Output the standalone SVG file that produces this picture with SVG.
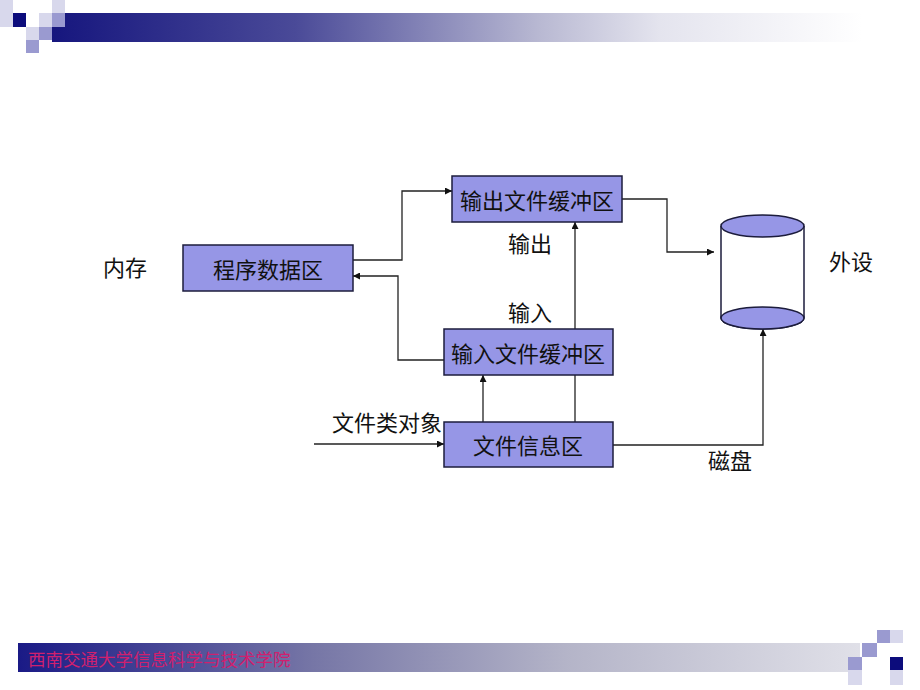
<svg xmlns="http://www.w3.org/2000/svg" width="920" height="690" viewBox="0 0 920 690">
<defs>
<linearGradient id="hdr" x1="0" y1="0" x2="1" y2="0">
<stop offset="0" stop-color="#16167e"/>
<stop offset="0.3" stop-color="#4a4a98"/>
<stop offset="0.6" stop-color="#b8b8d2"/>
<stop offset="0.75" stop-color="#e4e4ee"/>
<stop offset="1" stop-color="#ffffff"/>
</linearGradient>
<linearGradient id="ftr" x1="0" y1="0" x2="1" y2="0">
<stop offset="0" stop-color="#1a1a86"/>
<stop offset="0.35" stop-color="#7676a6"/>
<stop offset="0.65" stop-color="#b4b4c8"/>
<stop offset="1" stop-color="#e0e0e8"/>
</linearGradient>
<marker id="arr" viewBox="0 0 10 10" refX="10" refY="5" markerWidth="9" markerHeight="7" markerUnits="userSpaceOnUse" orient="auto">
<path d="M0,0 L10,5 L0,10 z" fill="#111"/>
</marker>
<style>
.node{fill:#9696e6;stroke:#1c1c3c;stroke-width:1.5}
.t{font-family:"Noto Sans CJK SC","Noto Sans",sans-serif;font-size:22px;fill:#111;text-anchor:middle;dominant-baseline:central}
.c{fill:none;stroke:#222;stroke-width:1.3;marker-end:url(#arr)}
.lt{fill:#d8d8ec}
.md{fill:#9a9ad0}
.dk{fill:#0c0c7c}
</style>
</defs>
<rect width="920" height="690" fill="#ffffff"/>
<!-- header -->
<g id="header">
<rect x="52" y="13" width="810" height="29" fill="url(#hdr)"/>
<rect class="lt" x="0" y="0" width="13" height="27"/>
<rect class="lt" x="52" y="0" width="13" height="13"/>
<rect class="dk" x="13" y="13" width="13" height="14"/>
<rect class="lt" x="39" y="13" width="13" height="14"/>
<rect class="md" x="52" y="13" width="13" height="14"/>
<rect class="lt" x="26" y="27" width="13" height="13"/>
<rect class="md" x="39" y="27" width="13" height="13"/>
<rect class="md" x="26" y="40" width="13" height="13"/>
</g>
<!-- footer -->
<g id="footer">
<rect x="18" y="643" width="842" height="29" fill="url(#ftr)"/>
<text x="28" y="658" font-family="Noto Sans CJK SC,sans-serif" font-size="17.5" fill="#d0206e" dominant-baseline="central">西南交通大学信息科学与技术学院</text>
<rect class="md" x="877" y="630" width="13" height="13"/>
<rect class="lt" x="890" y="630" width="13" height="13"/>
<rect class="md" x="862" y="643" width="15" height="14"/>
<rect class="md" x="848" y="657" width="14" height="13"/>
<rect class="dk" x="890" y="657" width="13" height="13"/>
<rect class="lt" x="848" y="670" width="14" height="15"/>
<rect class="lt" x="890" y="670" width="13" height="15"/>
</g>
<!-- connectors -->
<g id="connectors">
<polyline class="c" points="353,260 402,260 402,191 452,191"/>
<polyline class="c" points="444,360 398,360 398,276 353,276"/>
<line class="c" x1="483" y1="422" x2="483" y2="375"/>
<line class="c" x1="575" y1="422" x2="575" y2="222"/>
<polyline class="c" points="622,199 667,199 667,252 714,252"/>
<polyline class="c" points="613,445 763,445 763,329"/>
<line class="c" x1="314" y1="444" x2="444" y2="444"/>
</g>
<!-- nodes -->
<g id="prog">
<rect class="node" x="183" y="245" width="170" height="46"/>
<text class="t" x="268" y="268">程序数据区</text>
</g>
<g id="outbuf">
<rect class="node" x="452" y="176" width="170" height="46"/>
<text class="t" x="537" y="199">输出文件缓冲区</text>
</g>
<g id="inbuf">
<rect class="node" x="444" y="329" width="169" height="46"/>
<text class="t" x="528" y="352">输入文件缓冲区</text>
</g>
<g id="info">
<rect class="node" x="444" y="422" width="169" height="45"/>
<text class="t" x="528" y="444">文件信息区</text>
</g>
<g id="disk">
<path d="M721,226 L721,318 A41.5,11 0 0 0 804,318 L804,226" fill="#ffffff" stroke="#1c1c3c" stroke-width="1.5"/>
<ellipse cx="762.5" cy="318" rx="41.5" ry="11" class="node"/>
<ellipse cx="762.5" cy="226" rx="41.5" ry="11" class="node"/>
</g>
<!-- labels -->
<g id="labels">
<text class="t" x="125" y="266">内存</text>
<text class="t" x="851" y="260">外设</text>
<text class="t" x="530" y="242">输出</text>
<text class="t" x="530" y="311">输入</text>
<text class="t" x="387" y="421">文件类对象</text>
<text class="t" x="730" y="459">磁盘</text>
</g>
</svg>
